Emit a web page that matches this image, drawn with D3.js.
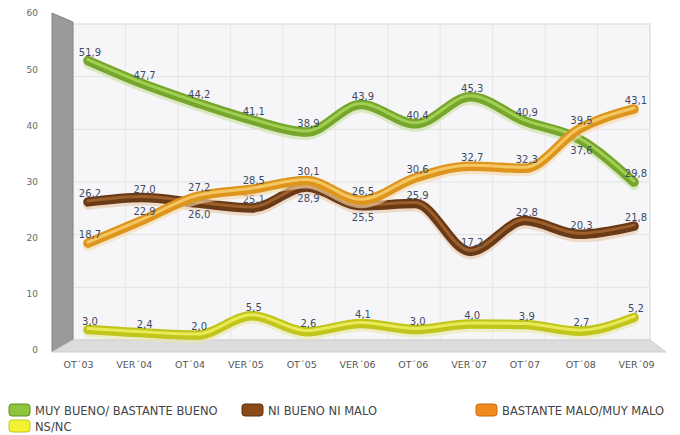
<!DOCTYPE html>
<html>
<head>
<meta charset="utf-8">
<script src="https://cdn.jsdelivr.net/npm/d3@7"></script>
<style>
  body { margin: 0; background: #fff; }
  svg { display: block; font-family: "DejaVu Sans", sans-serif; }
</style>
</head>
<body>
<svg id="chart"></svg>
<script>
// data
var categories = ["OT´03", "VER´04", "OT´04", "VER´05", "OT´05", "VER´06", "OT´06", "VER´07", "OT´07", "OT´08", "VER´09"];
var seriesNames = ["MUY BUENO/ BASTANTE BUENO", "NI BUENO NI MALO", "BASTANTE MALO/MUY MALO", "NS/NC"];
var bueno = [51.9, 47.7, 44.2, 41.1, 38.9, 43.9, 40.4, 45.3, 40.9, 37.6, 29.8];
var niBueno = [26.2, 27.0, 26.0, 25.1, 28.9, 25.5, 25.9, 17.2, 22.8, 20.3, 21.8];
var malo = [18.7, 22.9, 27.2, 28.5, 30.1, 26.5, 30.6, 32.7, 32.3, 39.5, 43.1];
var nsnc = [3.0, 2.4, 2.0, 5.5, 2.6, 4.1, 3.0, 4.0, 3.9, 2.7, 5.2];
var yTicks = [0, 10, 20, 30, 40, 50, 60];

var width = 680, height = 435;
var svg = d3.select("#chart").attr("width", width).attr("height", height);

// scales
var yFront = d3.scaleLinear().domain([0, 60]).range([350, 13]);
var yBack = d3.scaleLinear().domain([0, 60]).range([340, 24]);
var yLine = d3.scaleLinear().domain([0, 60]).range([346, 16]);
var xLine = d3.scalePoint().domain(categories).range([88, 634]);
var xLabel = d3.scalePoint().domain(categories).range([78, 636]);
var xBand = d3.scaleBand().domain(categories).range([73, 650]);

var back = { x0: 73, x1: 650, y0: yBack(60), y1: yBack(0) };

// back wall
svg.append("rect")
  .attr("x", back.x0).attr("y", back.y0)
  .attr("width", back.x1 - back.x0).attr("height", back.y1 - back.y0)
  .attr("fill", "#f6f6f8").attr("stroke", "#d6d6d6");

// grid
svg.append("g").selectAll("line").data(yTicks.slice(1, -1)).join("line")
  .attr("x1", back.x0).attr("x2", back.x1)
  .attr("y1", function(d) { return yBack(d); }).attr("y2", function(d) { return yBack(d); })
  .attr("stroke", "#e2e2e4");
svg.append("g").selectAll("line").data(categories.slice(1)).join("line")
  .attr("x1", function(d) { return xBand(d); }).attr("x2", function(d) { return xBand(d); })
  .attr("y1", back.y0).attr("y2", back.y1)
  .attr("stroke", "#e6e6e8");

// left wall and floor
svg.append("polygon")
  .attr("points", [[52, yFront(60)], [back.x0, back.y0 - 2], [back.x0, back.y1], [52, yFront(0) + 2]].join(" "))
  .attr("fill", "#9a9a9a").attr("stroke", "#888");
svg.append("polygon")
  .attr("points", [[back.x0, back.y1], [back.x1, back.y1], [666, yFront(0) + 2], [52, yFront(0) + 2]].join(" "))
  .attr("fill", "#dcdcdc").attr("stroke", "#cfcfcf");

// axes
var yAxis = svg.append("g")
  .attr("transform", "translate(38,0)")
  .call(d3.axisLeft(yFront).tickValues(yTicks).tickSize(0).tickPadding(0));
yAxis.select(".domain").remove();
yAxis.selectAll("text").attr("font-size", "9px").attr("fill", "#666")
  .attr("font-family", "DejaVu Sans, sans-serif");

var xAxis = svg.append("g")
  .attr("transform", "translate(0,358)")
  .call(d3.axisBottom(xLabel).tickSize(0).tickPadding(3));
xAxis.select(".domain").remove();
xAxis.selectAll("text").attr("font-size", "9.5px").attr("fill", "#555")
  .attr("font-family", "DejaVu Sans, sans-serif");

// lines
var line = d3.line()
  .x(function(d, i) { return xLine(categories[i]); })
  .y(function(d) { return yLine(d); })
  .curve(d3.curveMonotoneX);

var fmt = function(v) { return d3.format(".1f")(v).replace(".", ","); };

var series = [
  { values: bueno, dark: "#76a62c", light: "#a9d65a", shadow: "#c8e0a0" },
  { values: niBueno, dark: "#6a3a16", light: "#a4662f", shadow: "#e8c8a8" },
  { values: nsnc, dark: "#c2c61c", light: "#eef062", shadow: "#e8eaa8" },
  { values: malo, dark: "#de951d", light: "#f9d070", shadow: "#f6d8a8" }
];

// label above the point, unless another series' label would collide: then the lower one goes below
function labelY(s, i) {
  var v = s.values[i], y = yLine(v) - 5;
  var clash = series.some(function(o) {
    return o !== s && Math.abs(yLine(o.values[i]) - yLine(v)) < 11 && o.values[i] > v;
  });
  return clash ? yLine(v) + 15 : y;
}

series.forEach(function(s) {
  var g = svg.append("g");
  g.append("path").attr("d", line(s.values))
    .attr("transform", "translate(0,3)")
    .attr("fill", "none").attr("stroke", s.shadow).attr("stroke-width", 10)
    .attr("stroke-opacity", 0.6).attr("stroke-linecap", "round");
  g.append("path").attr("d", line(s.values))
    .attr("fill", "none").attr("stroke", s.dark).attr("stroke-width", 9.5)
    .attr("stroke-linecap", "round").attr("stroke-linejoin", "round");
  g.append("path").attr("d", line(s.values))
    .attr("transform", "translate(0,-1)")
    .attr("fill", "none").attr("stroke", s.light).attr("stroke-width", 3)
    .attr("stroke-opacity", 0.85).attr("stroke-linecap", "round");
  g.selectAll("text").data(s.values).join("text")
    .attr("x", function(d, i) { return xLine(categories[i]) + 2; })
    .attr("y", function(d, i) { return labelY(s, i); })
    .attr("text-anchor", "middle")
    .attr("font-size", "10px")
    .attr("fill", "#3e4a66")
    .text(fmt);
});

// legend
var legendItems = [
  { name: seriesNames[0], x: 9, y: 410, fill: "#8cc43c", stroke: "#5e8e22" },
  { name: seriesNames[1], x: 242, y: 410, fill: "#8b4a18", stroke: "#5a2e0e" },
  { name: seriesNames[2], x: 476, y: 410, fill: "#f08a1c", stroke: "#c86a10" },
  { name: seriesNames[3], x: 9, y: 426, fill: "#f2f232", stroke: "#c4c420" }
];
var lg = svg.append("g").selectAll("g").data(legendItems).join("g")
  .attr("transform", function(d) { return "translate(" + d.x + "," + d.y + ")"; });
lg.append("rect").attr("x", 0).attr("y", -6).attr("width", 21).attr("height", 12)
  .attr("rx", 3).attr("fill", function(d) { return d.fill; })
  .attr("stroke", function(d) { return d.stroke; });
lg.append("text").attr("x", 26).attr("y", 4.5)
  .attr("font-size", "11.5px").attr("fill", "#444")
  .text(function(d) { return d.name; });
</script>
</body>
</html>
